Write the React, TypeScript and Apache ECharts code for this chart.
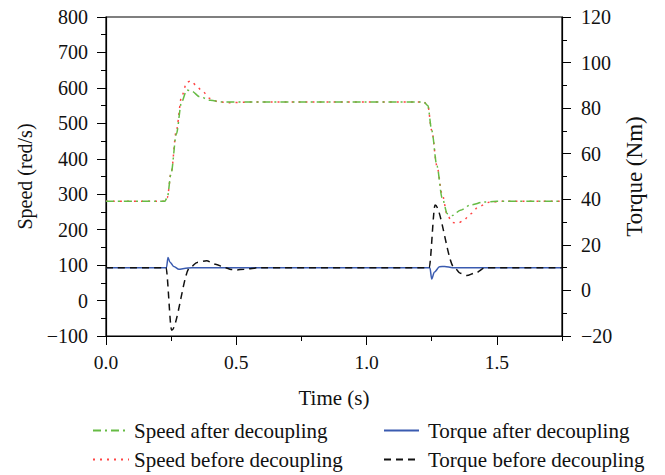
import React, { useEffect, useRef } from "react";
import * as echarts from "echarts";

const speedAfter: [number, number][] = [
  [0, 280], [0.225, 280], [0.235, 290], [0.25, 360], [0.27, 470], [0.29, 560], [0.31, 594],
  [0.33, 590], [0.36, 575], [0.4, 565], [0.45, 560], [1.0, 560], [1.22, 560], [1.235, 550],
  [1.25, 480], [1.27, 380], [1.29, 290], [1.31, 245], [1.33, 240], [1.36, 255], [1.4, 270],
  [1.45, 278], [1.5, 280], [1.75, 280],
];
const speedBefore: [number, number][] = [
  [0, 280], [0.225, 280], [0.235, 290], [0.25, 360], [0.27, 480], [0.29, 575], [0.31, 615],
  [0.325, 620], [0.345, 608], [0.37, 590], [0.4, 570], [0.43, 561], [0.47, 558], [0.55, 560],
  [1.22, 560], [1.235, 550], [1.25, 480], [1.27, 380], [1.29, 300], [1.31, 240], [1.33, 220],
  [1.35, 218], [1.37, 225], [1.4, 245], [1.43, 265], [1.47, 277], [1.52, 280], [1.75, 280],
];
const torqueAfter: [number, number][] = [
  [0, 10], [0.232, 10], [0.238, 14.5], [0.245, 12.5], [0.26, 10.5], [0.28, 9.3], [0.3, 9.6],
  [0.33, 10], [1.243, 10], [1.25, 5], [1.26, 8], [1.28, 10.4], [1.3, 10.5], [1.33, 10], [1.75, 10],
];
const torqueBefore: [number, number][] = [
  [0, 10], [0.23, 10], [0.252, -17.5], [0.322, 10], [0.35, 12.3], [0.386, 13],
  [0.42, 11.5], [0.457, 10], [0.48, 9.2], [0.5, 9], [0.53, 9.3], [0.59, 10], [1.24, 10],
  [1.263, 37.5], [1.337, 10], [1.36, 7.5], [1.384, 6.5], [1.42, 7.8], [1.455, 10],
  [1.75, 10],
];

const xLabels = [0, 0.5, 1.0, 1.5];
const seriesNames = [
  "Speed after decoupling",
  "Speed before decoupling",
  "Torque after decoupling",
  "Torque before decoupling",
];

const FONT = "Liberation Serif";
const fmtMinus = (v: number) => (v < 0 ? "\u2212" + Math.abs(v) : String(v));

export default function App() {
  const ref = useRef<HTMLDivElement>(null);
  useEffect(() => {
    if (!ref.current) return;
    const chart = echarts.init(ref.current, undefined, { renderer: "svg" });
    const axisLine = { show: true, onZero: false, lineStyle: { color: "#000", width: 1.2 } };
    const labelStyle = { color: "#111", fontFamily: FONT, fontSize: 20 };
    const legendText = {
      color: "#111", fontFamily: FONT, fontSize: 21, lineHeight: 20,
    };
    chart.setOption({
      animation: false,
      backgroundColor: "#fff",
      grid: {
        left: 106, right: 103, top: 17, bottom: 139,
        show: true, borderColor: "#000", borderWidth: 1.2, backgroundColor: "transparent",
      },
      xAxis: [
        {
          type: "value", min: 0, max: 1.75, interval: 0.5, position: "bottom",
          name: "Time (s)", nameLocation: "middle", nameGap: 51,
          nameTextStyle: { color: "#111", fontFamily: FONT, fontSize: 21 },
          axisLine,
          axisTick: { show: true, inside: false, length: 9, lineStyle: { color: "#000" }, customValues: xLabels },
          axisLabel: { ...labelStyle, fontSize: 19.5, margin: 16, customValues: xLabels, formatter: (v: number) => v.toFixed(1) },
          splitLine: { show: false },
        },
        {
          type: "value", min: 0, max: 1.75, interval: 0.25, position: "bottom",
          axisLine: { show: false, onZero: false },
          axisTick: { show: true, inside: false, length: 5, lineStyle: { color: "#000" } },
          axisLabel: { show: false },
          splitLine: { show: false },
        },
      ],
      yAxis: [
        {
          type: "value", min: -100, max: 800, interval: 100, position: "left",
          name: "Speed (red/s)", nameLocation: "middle", nameGap: 71, nameRotate: 90,
          nameTextStyle: { color: "#111", fontFamily: FONT, fontSize: 20 },
          axisLine,
          axisTick: { show: true, inside: false, length: 9, lineStyle: { color: "#000" } },
          minorTick: { show: true, splitNumber: 2, length: 5, lineStyle: { color: "#000" } },
          axisLabel: { ...labelStyle, margin: 18, formatter: fmtMinus },
          splitLine: { show: false },
        },
        {
          type: "value", min: -20, max: 120, interval: 20, position: "right",
          name: "Torque (Nm)", nameLocation: "middle", nameGap: 58, nameRotate: 90,
          nameTextStyle: { color: "#111", fontFamily: FONT, fontSize: 23 },
          axisLine,
          axisTick: { show: true, inside: false, length: 9, lineStyle: { color: "#000" } },
          minorTick: { show: true, splitNumber: 2, length: 5, lineStyle: { color: "#000" } },
          axisLabel: { ...labelStyle, margin: 19, formatter: fmtMinus },
          splitLine: { show: false },
        },
      ],
      legend: [
        {
          data: [seriesNames[0], seriesNames[1]],
          orient: "vertical", left: 87, top: 415, height: 60, itemWidth: 36, itemHeight: 14, itemGap: 8,
          itemStyle: { opacity: 0 },
          textStyle: { ...legendText, padding: [0, 0, 0, 0] },
        },
        {
          data: [seriesNames[2], seriesNames[3]],
          orient: "vertical", left: 378, top: 415, height: 60, itemWidth: 35, itemHeight: 14, itemGap: 8,
          itemStyle: { opacity: 0 },
          textStyle: { ...legendText, padding: [0, 0, 0, 4] },
        },
      ],
      series: [
        {
          name: seriesNames[0], type: "line", xAxisIndex: 0, yAxisIndex: 0, data: speedAfter,
          showSymbol: false, symbol: "none", smooth: 0.3, smoothMonotone: "x",
          lineStyle: { color: "#66bb44", width: 1.5, type: [8, 4, 2, 4] },
          itemStyle: { color: "#66bb44" }, z: 3,
        },
        {
          name: seriesNames[1], type: "line", xAxisIndex: 0, yAxisIndex: 0, data: speedBefore,
          showSymbol: false, symbol: "none", smooth: 0.3, smoothMonotone: "x",
          lineStyle: { color: "#ff4444", width: 1.5, type: [2, 5] },
          itemStyle: { color: "#ff4444" }, z: 2,
        },
        {
          name: seriesNames[2], type: "line", xAxisIndex: 0, yAxisIndex: 1, data: torqueAfter,
          showSymbol: false, symbol: "none", smooth: 0.3, smoothMonotone: "x",
          lineStyle: { color: "#3a5bb0", width: 1.5, type: "solid" },
          itemStyle: { color: "#3a5bb0" }, z: 4,
        },
        {
          name: seriesNames[3], type: "line", xAxisIndex: 0, yAxisIndex: 1, data: torqueBefore,
          showSymbol: false, symbol: "none", smooth: 0.3, smoothMonotone: "x",
          lineStyle: { color: "#111", width: 1.5, type: [7, 5] },
          itemStyle: { color: "#111" }, z: 5,
        },
      ],
    });
    return () => chart.dispose();
  }, []);
  return <div ref={ref} style={{ position: "absolute", left: 0, top: 0, width: 665, height: 475 }} />;
}
